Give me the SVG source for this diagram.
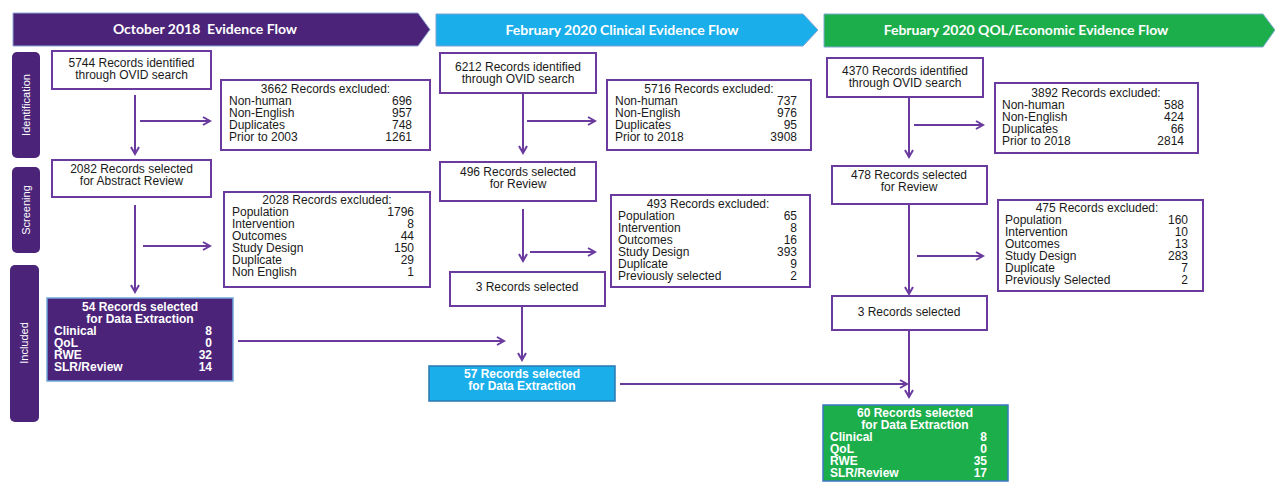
<svg xmlns="http://www.w3.org/2000/svg" width="1275" height="483" viewBox="0 0 1275 483">
<style>
.bx{fill:#fff;stroke:#6b3a9e;stroke-width:2}
.t{font-family:"Liberation Sans",Arial,sans-serif;font-size:12px;fill:#1a1a1a}
.c{text-anchor:middle}
.r{text-anchor:end}
.w{fill:#fff;font-weight:bold}
.ban{font-family:Lato,"Open Sans",sans-serif;font-weight:bold;font-size:14px;fill:#fff;text-anchor:middle}
.side{fill:#4b2378}
.st{font-family:"Liberation Sans",Arial,sans-serif;font-size:11px;fill:#fff;text-anchor:middle}
.ln{stroke:#6b3a9e;stroke-width:2;fill:none}
</style>
<defs>
<marker id="a" markerUnits="userSpaceOnUse" markerWidth="10" markerHeight="10" viewBox="0 0 10 10" refX="8" refY="5" orient="auto">
<path d="M1,1 L8,5 L1,9" fill="none" stroke="#6b3a9e" stroke-width="2"/>
</marker>
</defs>
<rect width="1275" height="483" fill="#fff"/>

<g id="banners">
<g id="banner1"><polygon points="13,13 418,13 430,29.5 418,46 13,46" fill="#4b2378" stroke="#8fa8d8" stroke-width="1"/>
<text class="ban" x="205" y="34">October 2018&#160; Evidence Flow</text></g>
<g id="banner2"><polygon points="436,14 803,14 818,30 803,46 436,46" fill="#1aaeea" stroke="#7f9fd0" stroke-width="1"/>
<text class="ban" x="622" y="35">February 2020 Clinical Evidence Flow</text></g>
<g id="banner3"><polygon points="824,14 1263,14 1275,30 1263,47 824,47" fill="#1dae4c" stroke="#7fa8d0" stroke-width="1"/>
<text class="ban" x="1026" y="35">February 2020 QOL/Economic Evidence Flow</text></g>
</g>

<g id="sides">
<g id="side-identification"><rect class="side" x="12" y="52" width="28" height="106" rx="5"/>
<text class="st" transform="translate(30,105) rotate(-90)">Identification</text></g>
<g id="side-screening"><rect class="side" x="12" y="167" width="28" height="86" rx="5"/>
<text class="st" transform="translate(30,210) rotate(-90)">Screening</text></g>
<g id="side-included"><rect class="side" x="10" y="265" width="29" height="157" rx="5"/>
<text class="st" transform="translate(28,343) rotate(-90)">Included</text></g>
</g>

<g id="connectors">
<line class="ln" x1="135" y1="95" x2="135" y2="154" marker-end="url(#a)"/>
<line class="ln" x1="140" y1="121" x2="210" y2="121" marker-end="url(#a)"/>
<line class="ln" x1="135" y1="205" x2="135" y2="292" marker-end="url(#a)"/>
<line class="ln" x1="143" y1="246" x2="210" y2="246" marker-end="url(#a)"/>
<line class="ln" x1="238" y1="341" x2="504" y2="341" marker-end="url(#a)"/>
<line class="ln" x1="523" y1="94" x2="523" y2="153" marker-end="url(#a)"/>
<line class="ln" x1="527" y1="121" x2="595" y2="121" marker-end="url(#a)"/>
<line class="ln" x1="523" y1="209" x2="523" y2="261" marker-end="url(#a)"/>
<line class="ln" x1="530" y1="252" x2="595" y2="252" marker-end="url(#a)"/>
<line class="ln" x1="522" y1="306" x2="522" y2="360" marker-end="url(#a)"/>
<line class="ln" x1="620" y1="384" x2="907" y2="384" marker-end="url(#a)"/>
<line class="ln" x1="909" y1="97" x2="909" y2="157" marker-end="url(#a)"/>
<line class="ln" x1="914" y1="125" x2="983" y2="125" marker-end="url(#a)"/>
<line class="ln" x1="909" y1="204" x2="909" y2="294" marker-end="url(#a)"/>
<line class="ln" x1="917" y1="256" x2="983" y2="256" marker-end="url(#a)"/>
<line class="ln" x1="909" y1="330" x2="909" y2="397" marker-end="url(#a)"/>
</g>

<g id="n-5744"><rect class="bx" x="52" y="51" width="159" height="38"/>
<text class="t c" x="131.5" y="67">5744 Records identified</text>
<text class="t c" x="131.5" y="79">through OVID search</text></g>

<g id="n-excl-3662"><rect class="bx" x="221" y="80" width="209" height="70"/>
<text class="t c" x="325.5" y="93">3662 Records excluded:</text>
<text class="t" x="229" y="105">Non-human</text><text class="t r" x="412" y="105">696</text>
<text class="t" x="229" y="117">Non-English</text><text class="t r" x="412" y="117">957</text>
<text class="t" x="229" y="129">Duplicates</text><text class="t r" x="412" y="129">748</text>
<text class="t" x="229" y="141">Prior to 2003</text><text class="t r" x="412" y="141">1261</text></g>

<g id="n-2082"><rect class="bx" x="52" y="160" width="159" height="37"/>
<text class="t c" x="131.5" y="173">2082 Records selected</text>
<text class="t c" x="131.5" y="185">for Abstract Review</text></g>

<g id="n-excl-2028"><rect class="bx" x="224" y="192" width="206" height="95"/>
<text class="t c" x="327" y="204">2028 Records excluded:</text>
<text class="t" x="232" y="216">Population</text><text class="t r" x="414" y="216">1796</text>
<text class="t" x="232" y="228">Intervention</text><text class="t r" x="414" y="228">8</text>
<text class="t" x="232" y="240">Outcomes</text><text class="t r" x="414" y="240">44</text>
<text class="t" x="232" y="252">Study Design</text><text class="t r" x="414" y="252">150</text>
<text class="t" x="232" y="264">Duplicate</text><text class="t r" x="414" y="264">29</text>
<text class="t" x="232" y="276">Non English</text><text class="t r" x="414" y="276">1</text></g>

<g id="n-54"><rect x="47" y="298" width="186" height="83" fill="#4b2378" stroke="#6fa8dc" stroke-width="1.5"/>
<text class="t c w" x="140" y="311">54 Records selected</text>
<text class="t c w" x="140" y="323">for Data Extraction</text>
<text class="t w" x="54" y="335">Clinical</text><text class="t r w" x="212" y="335">8</text>
<text class="t w" x="54" y="347">QoL</text><text class="t r w" x="212" y="347">0</text>
<text class="t w" x="54" y="359">RWE</text><text class="t r w" x="212" y="359">32</text>
<text class="t w" x="54" y="371">SLR/Review</text><text class="t r w" x="212" y="371">14</text></g>

<g id="n-6212"><rect class="bx" x="440" y="53" width="156" height="40"/>
<text class="t c" x="518" y="71">6212 Records identified</text>
<text class="t c" x="518" y="83">through OVID search</text></g>

<g id="n-excl-5716"><rect class="bx" x="607" y="80" width="204" height="70"/>
<text class="t c" x="709" y="93">5716 Records excluded:</text>
<text class="t" x="615" y="105">Non-human</text><text class="t r" x="797" y="105">737</text>
<text class="t" x="615" y="117">Non-English</text><text class="t r" x="797" y="117">976</text>
<text class="t" x="615" y="129">Duplicates</text><text class="t r" x="797" y="129">95</text>
<text class="t" x="615" y="141">Prior to 2018</text><text class="t r" x="797" y="141">3908</text></g>

<g id="n-496"><rect class="bx" x="440" y="162" width="156" height="39"/>
<text class="t c" x="518" y="176">496 Records selected</text>
<text class="t c" x="518" y="188">for Review</text></g>

<g id="n-excl-493"><rect class="bx" x="611" y="195" width="199" height="92"/>
<text class="t c" x="708" y="208">493 Records excluded:</text>
<text class="t" x="618" y="220">Population</text><text class="t r" x="797" y="220">65</text>
<text class="t" x="618" y="232">Intervention</text><text class="t r" x="797" y="232">8</text>
<text class="t" x="618" y="244">Outcomes</text><text class="t r" x="797" y="244">16</text>
<text class="t" x="618" y="256">Study Design</text><text class="t r" x="797" y="256">393</text>
<text class="t" x="618" y="268">Duplicate</text><text class="t r" x="797" y="268">9</text>
<text class="t" x="618" y="280">Previously selected</text><text class="t r" x="797" y="280">2</text></g>

<g id="n-3-clin"><rect class="bx" x="450" y="272" width="155" height="34"/>
<text class="t c" x="527" y="291">3 Records selected</text></g>

<g id="n-57"><rect x="429" y="366" width="186" height="35" fill="#1aaeea" stroke="#2a78b4" stroke-width="1.5"/>
<text class="t c w" x="522" y="378">57 Records selected</text>
<text class="t c w" x="522" y="390">for Data Extraction</text></g>

<g id="n-4370"><rect class="bx" x="827" y="58" width="156" height="39"/>
<text class="t c" x="905" y="75">4370 Records identified</text>
<text class="t c" x="905" y="87">through OVID search</text></g>

<g id="n-excl-3892"><rect class="bx" x="995" y="83" width="203" height="70"/>
<text class="t c" x="1096" y="97">3892 Records excluded:</text>
<text class="t" x="1002" y="109">Non-human</text><text class="t r" x="1184" y="109">588</text>
<text class="t" x="1002" y="121">Non-English</text><text class="t r" x="1184" y="121">424</text>
<text class="t" x="1002" y="133">Duplicates</text><text class="t r" x="1184" y="133">66</text>
<text class="t" x="1002" y="145">Prior to 2018</text><text class="t r" x="1184" y="145">2814</text></g>

<g id="n-478"><rect class="bx" x="832" y="166" width="155" height="38"/>
<text class="t c" x="909" y="179">478 Records selected</text>
<text class="t c" x="909" y="191">for Review</text></g>

<g id="n-excl-475"><rect class="bx" x="998" y="200" width="205" height="91"/>
<text class="t c" x="1097" y="212">475 Records excluded:</text>
<text class="t" x="1005" y="224">Population</text><text class="t r" x="1188" y="224">160</text>
<text class="t" x="1005" y="236">Intervention</text><text class="t r" x="1188" y="236">10</text>
<text class="t" x="1005" y="248">Outcomes</text><text class="t r" x="1188" y="248">13</text>
<text class="t" x="1005" y="260">Study Design</text><text class="t r" x="1188" y="260">283</text>
<text class="t" x="1005" y="272">Duplicate</text><text class="t r" x="1188" y="272">7</text>
<text class="t" x="1005" y="284">Previously Selected</text><text class="t r" x="1188" y="284">2</text></g>

<g id="n-3-qol"><rect class="bx" x="832" y="296" width="155" height="34"/>
<text class="t c" x="909" y="316">3 Records selected</text></g>

<g id="n-60"><rect x="823" y="405" width="185" height="76" fill="#1dae4c" stroke="#3a78c0" stroke-width="1.5"/>
<text class="t c w" x="915" y="417">60 Records selected</text>
<text class="t c w" x="915" y="429">for Data Extraction</text>
<text class="t w" x="830" y="441">Clinical</text><text class="t r w" x="987" y="441">8</text>
<text class="t w" x="830" y="453">QoL</text><text class="t r w" x="987" y="453">0</text>
<text class="t w" x="830" y="465">RWE</text><text class="t r w" x="987" y="465">35</text>
<text class="t w" x="830" y="477">SLR/Review</text><text class="t r w" x="987" y="477">17</text></g>
</svg>
